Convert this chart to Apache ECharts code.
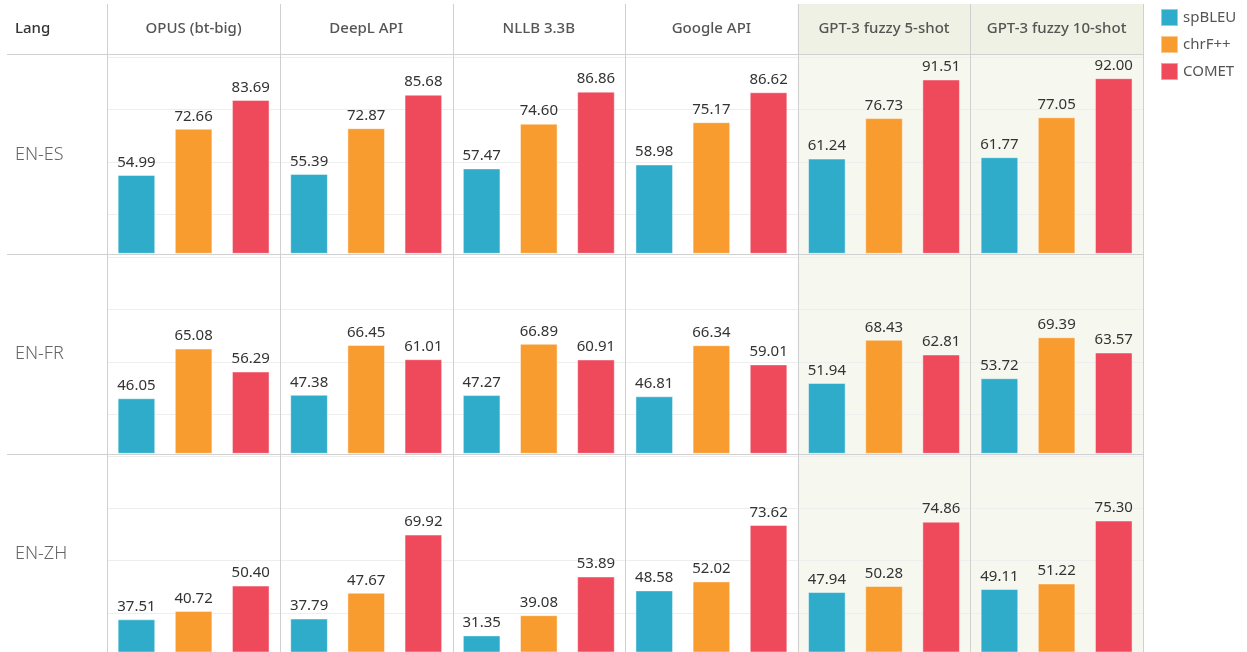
<!DOCTYPE html>
<html>
<head>
<meta charset="utf-8">
<script src="https://cdn.jsdelivr.net/npm/echarts@6/dist/echarts.min.js"></script>
<style>
  html, body { margin: 0; padding: 0; background: #fff; }
  #chart { width: 1247px; height: 652px; }
</style>
</head>
<body>
<div id="chart"></div>
<script>
// Data
const langs = ['EN-ES', 'EN-FR', 'EN-ZH']
const systems = ['OPUS (bt-big)', 'DeepL API', 'NLLB 3.3B', 'Google API', 'GPT-3 fuzzy 5-shot', 'GPT-3 fuzzy 10-shot']
const metrics = ['spBLEU', 'chrF++', 'COMET']
// rows = langs, columns = systems
const spBLEU = [
  [54.99, 55.39, 57.47, 58.98, 61.24, 61.77],
  [46.05, 47.38, 47.27, 46.81, 51.94, 53.72],
  [37.51, 37.79, 31.35, 48.58, 47.94, 49.11]
]
const chrF = [
  [72.66, 72.87, 74.60, 75.17, 76.73, 77.05],
  [65.08, 66.45, 66.89, 66.34, 68.43, 69.39],
  [40.72, 47.67, 39.08, 52.02, 50.28, 51.22]
]
const comet = [
  [83.69, 85.68, 86.86, 86.62, 91.51, 92.00],
  [56.29, 61.01, 60.91, 59.01, 62.81, 63.57],
  [50.40, 69.92, 53.89, 73.62, 74.86, 75.30]
]
const metricValues = [spBLEU, chrF, comet]
const colors = ['#2eacc9', '#f89c30', '#ee4a5c']

// Layout
const colLeft = 107.3
const colW = 172.6
const rowBottom = [253.3, 453.3, 652]
const gridH = 196
const sepY = [54, 253.8, 453.8]
const font = '"Noto Sans", sans-serif'

const chart = echarts.init(document.getElementById('chart'))

const grids = []
const xAxes = []
const yAxes = []
const series = []

langs.forEach((lang, r) => {
  systems.forEach((sys, c) => {
    const idx = grids.length
    grids.push({
      left: colLeft + c * colW,
      width: colW,
      top: rowBottom[r] - gridH,
      height: gridH,
      containLabel: false
    })
    xAxes.push({
      type: 'category',
      gridIndex: idx,
      data: [sys],
      show: false
    })
    yAxes.push({
      type: 'value',
      gridIndex: idx,
      min: 25,
      max: 100,
      interval: 5,
      axisLabel: { show: false },
      axisLine: { show: false },
      axisTick: { show: false },
      splitLine: {
        show: true,
        // only 40, 60, 80, 100 are drawn
        lineStyle: { color: ['rgba(0,0,0,0)', 'rgba(0,0,0,0)', 'rgba(0,0,0,0)', '#eeeeee'], width: 1 }
      }
    })
    metrics.forEach((m, k) => {
      series.push({
        name: m,
        type: 'bar',
        xAxisIndex: idx,
        yAxisIndex: idx,
        barWidth: 37.6,
        barGap: '52%',
        data: [metricValues[k][r][c]],
        itemStyle: { color: colors[k], borderColor: 'rgba(255,255,255,0.45)', borderWidth: 1 },
        label: {
          show: true,
          position: 'top',
          distance: 5,
          fontFamily: font,
          fontSize: 15,
          color: '#333',
          formatter: p => p.value.toFixed(2)
        }
      })
    })
  })
})

// Table decoration: backgrounds, separators, header texts
const graphics = []
// green background for GPT-3 columns
graphics.push({
  type: 'rect', z: -10, silent: true,
  shape: { x: colLeft + 4 * colW, y: 4, width: 2 * colW, height: 50 },
  style: { fill: '#eef1e3' }
})
graphics.push({
  type: 'rect', z: -10, silent: true,
  shape: { x: colLeft + 4 * colW, y: 54, width: 2 * colW, height: 600 },
  style: { fill: '#f6f8f0' }
})
// vertical separators
for (let i = 0; i <= 6; i++) {
  const x = Math.round(colLeft + i * colW) + 0.5
  graphics.push({
    type: 'line', z: 5, silent: true,
    shape: { x1: x, y1: 4, x2: x, y2: 652 },
    style: { stroke: '#d0d0d0', lineWidth: 1 }
  })
}
// horizontal separators
sepY.forEach(y => {
  const yy = Math.round(y) + 0.5
  graphics.push({
    type: 'line', z: 5, silent: true,
    shape: { x1: 7, y1: yy, x2: colLeft + 6 * colW, y2: yy },
    style: { stroke: '#d0d0d0', lineWidth: 1 }
  })
})
// header texts
graphics.push({
  type: 'text', z: 6, x: 15, y: 29,
  style: { text: 'Lang', font: '500 15px "Noto Sans", sans-serif', fill: '#333', textVerticalAlign: 'middle' }
})
systems.forEach((sys, c) => {
  graphics.push({
    type: 'text', z: 6,
    x: colLeft + c * colW + colW / 2, y: 29,
    style: {
      text: sys, font: '500 15px "Noto Sans", sans-serif', fill: '#555',
      textAlign: 'center', textVerticalAlign: 'middle'
    }
  })
})
// row labels
langs.forEach((lang, r) => {
  graphics.push({
    type: 'text', z: 6,
    x: 15, y: [155, 354, 554][r],
    style: {
      text: lang, font: '300 18px "Noto Sans", sans-serif', fill: '#666',
      textAlign: 'left', textVerticalAlign: 'middle'
    }
  })
})

chart.setOption({
  animation: false,
  legend: {
    orient: 'vertical',
    left: 1155,
    top: 3,
    itemWidth: 17,
    itemHeight: 17,
    itemGap: 8,
    icon: 'rect',
    data: metrics,
    textStyle: { fontFamily: font, fontSize: 15, color: '#555', padding: [0, 0, 0, 0] }
  },
  grid: grids,
  xAxis: xAxes,
  yAxis: yAxes,
  series: series,
  graphic: graphics
})
</script>
</body>
</html>
